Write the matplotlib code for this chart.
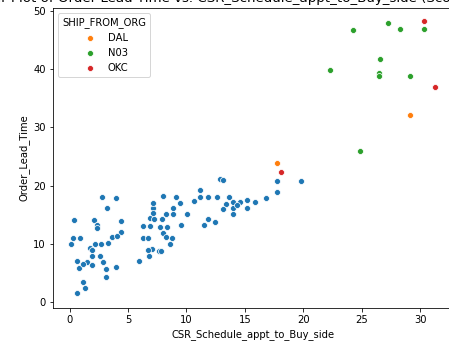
import matplotlib
matplotlib.use("Agg")
import matplotlib.pyplot as plt

# CSR_Schedule_appt_to_Buy_side / Order_Lead_Time, per SHIP_FROM_ORG
blue_x = [0.34, 2.79, 3.99, 3.19, 2.08, 2.34, 2.34, 4.39, 4.39, 3.65, 4.05, 0.26,
          0.89, 0.14, 2.17, 2.68, 3.25, 1.77, 1.88, 1.88, 2.56, 1.49, 2.82, 0.60,
          0.77, 1.14, 1.91, 3.11, 3.96, 3.11, 1.14, 1.34, 0.66, 5.95, 6.81, 7.04,
          6.75, 7.69, 7.81, 6.27, 6.75, 6.32, 6.89, 6.89, 7.23, 7.17, 7.17, 7.17,
          7.75, 7.89, 8.32, 8.03, 8.26, 8.74, 8.60, 8.26, 8.88, 8.88, 9.11, 8.03,
          9.48, 9.51, 10.02, 10.67, 11.16, 11.16, 11.82, 11.87, 11.50, 12.44, 12.64,
          12.87, 13.15, 13.66, 13.38, 13.10, 14.00, 14.00, 14.00, 14.58, 15.15,
          15.15, 15.86, 16.80, 17.71, 17.71, 19.79, 14.29]
blue_y = [14.04, 17.99, 17.92, 16.20, 14.04, 13.23, 12.77, 13.92, 12.03, 11.17,
          11.29, 11.00, 11.00, 9.91, 10.02, 10.02, 10.09, 9.33, 8.88, 7.96, 7.96,
          6.92, 6.92, 7.04, 5.89, 6.48, 6.31, 5.72, 5.96, 4.24, 3.49, 2.35, 1.49,
          7.10, 7.96, 9.11, 8.94, 8.82, 8.82, 10.95, 10.95, 13.01, 13.01, 14.38,
          14.26, 16.10, 17.01, 15.24, 12.94, 14.26, 12.94, 11.80, 11.12, 10.95,
          9.97, 15.17, 15.17, 16.20, 17.99, 18.21, 17.06, 13.23, 15.07, 17.41,
          19.24, 18.09, 17.99, 14.26, 13.23, 13.69, 18.04, 21.13, 20.91, 17.99,
          16.84, 15.98, 17.23, 16.10, 15.07, 17.13, 17.47, 16.20, 17.23, 17.82,
          20.84, 18.85, 20.84, 16.67]

dal_x = [29.16, 17.74]
dal_y = [32.1, 23.9]

n03_x = [24.25, 27.27, 28.24, 30.35, 26.53, 22.32, 26.47, 26.47, 29.16, 24.82]
n03_y = [46.8, 47.9, 46.9, 46.9, 41.8, 39.8, 39.3, 38.8, 38.8, 26.0]

okc_x = [30.35, 31.29, 18.08]
okc_y = [48.3, 37.0, 22.3]

fig = plt.figure(figsize=(449 / 72, 344 / 72), dpi=72)
ax = fig.add_axes([53 / 449, 36 / 344, 401 / 449, 300 / 344])

kw = dict(s=36, edgecolor="white", linewidth=0.75)
ax.scatter(blue_x, blue_y, color="#1f77b4", **kw)
ax.scatter(dal_x, dal_y, color="#ff7f0e", label="DAL", **kw)
ax.scatter(n03_x, n03_y, color="#2ca02c", label="N03", **kw)
ax.scatter(okc_x, okc_y, color="#d62728", label="OKC", **kw)

ax.set_xlim(-1.42, 32.9)
ax.set_ylim(-1.03, 50.5)
ax.set_xlabel("CSR_Schedule_appt_to_Buy_side")
ax.set_ylabel("Order_Lead_Time")
# title sits partly outside the visible area, as in the source screenshot
ax.set_title("Scatter Plot of Order Lead Time vs. CSR_Schedule_appt_to_Buy_side (Scored Dataset)",
             fontsize=13.4, x=0.5 - 7 / 401)
ax.legend(title="SHIP_FROM_ORG", loc="upper left")

fig.savefig("out.png", dpi=72)
